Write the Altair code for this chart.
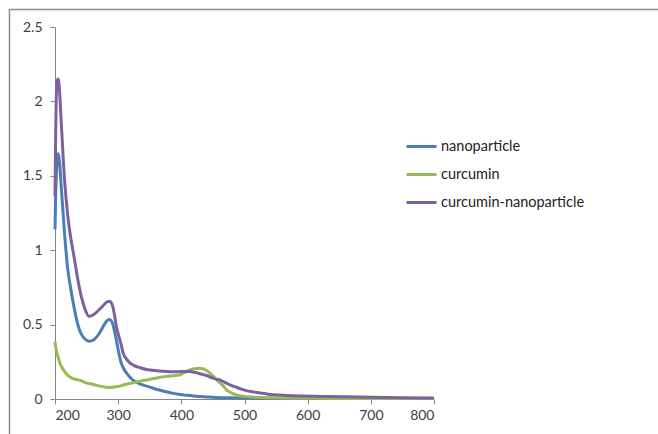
import altair as alt
import pandas as pd

wavelength = [200, 201, 203, 205, 207, 210, 215, 220, 225, 230, 235, 240, 247, 254, 262, 270, 278, 282, 286, 290, 294, 297, 300, 305, 308, 313, 318, 324, 335, 345, 350, 365, 376, 387, 398, 405, 414, 420, 429, 440, 450, 456, 461, 466, 472, 480, 487, 495, 503, 514, 525, 540, 560, 593, 635, 700, 750, 800]

nanoparticle = [1.14, 1.36, 1.58, 1.65, 1.60, 1.42, 1.12, 0.88, 0.74, 0.62, 0.52, 0.45, 0.405, 0.388, 0.40, 0.44, 0.50, 0.525, 0.535, 0.52, 0.46, 0.40, 0.33, 0.24, 0.21, 0.175, 0.15, 0.125, 0.10, 0.087, 0.08, 0.06, 0.049, 0.038, 0.030, 0.026, 0.023, 0.02, 0.017, 0.014, 0.011, 0.01, 0.009, 0.009, 0.008, 0.008, 0.007, 0.007, 0.006, 0.006, 0.005, 0.005, 0.005, 0.004, 0.004, 0.003, 0.003, 0.003]

curcumin = [0.385, 0.35, 0.31, 0.28, 0.25, 0.22, 0.185, 0.16, 0.145, 0.135, 0.13, 0.125, 0.112, 0.104, 0.096, 0.088, 0.081, 0.079, 0.078, 0.079, 0.081, 0.083, 0.085, 0.09, 0.094, 0.099, 0.104, 0.11, 0.12, 0.128, 0.132, 0.145, 0.152, 0.156, 0.162, 0.178, 0.195, 0.203, 0.207, 0.192, 0.155, 0.128, 0.11, 0.09, 0.06, 0.04, 0.027, 0.02, 0.016, 0.012, 0.01, 0.008, 0.006, 0.005, 0.004, 0.003, 0.003, 0.003]

curcumin_nanoparticle = [1.36, 1.75, 2.13, 2.15, 2.08, 1.85, 1.48, 1.24, 1.08, 0.96, 0.83, 0.72, 0.61, 0.555, 0.57, 0.60, 0.635, 0.652, 0.657, 0.64, 0.57, 0.49, 0.44, 0.36, 0.307, 0.27, 0.245, 0.228, 0.21, 0.198, 0.195, 0.188, 0.185, 0.183, 0.184, 0.185, 0.184, 0.18, 0.17, 0.158, 0.14, 0.133, 0.128, 0.118, 0.105, 0.09, 0.079, 0.066, 0.056, 0.048, 0.04, 0.031, 0.026, 0.02, 0.016, 0.012, 0.009, 0.006]

series_names = ["nanoparticle", "curcumin", "curcumin-nanoparticle"]
series_colors = ["#4A7EBB", "#98B954", "#7D60A0"]

rows = []
for name, vals in zip(series_names, [nanoparticle, curcumin, curcumin_nanoparticle]):
    for w, v in zip(wavelength, vals):
        rows.append({"wavelength": w, "absorbance": v, "series": name})
df = pd.DataFrame(rows)

FONT = "Lato"

lines = alt.Chart(df).mark_line(strokeWidth=3, interpolate="monotone").encode(
    x=alt.X("wavelength:Q",
            scale=alt.Scale(domain=[200, 800], nice=False, zero=False),
            axis=alt.Axis(values=[200, 300, 400, 500, 600, 700, 800], title=None,
                          grid=False, tickSize=5, labelPadding=4,
                          domainColor="#868686", tickColor="#868686",
                          labelColor="#404040", labelFontSize=14, labelFont=FONT)),
    y=alt.Y("absorbance:Q",
            scale=alt.Scale(domain=[0, 2.5], nice=False),
            axis=alt.Axis(values=[0, 0.5, 1, 1.5, 2, 2.5], title=None, format="~g",
                          grid=False, tickSize=5, labelPadding=8,
                          domainColor="#868686", tickColor="#868686",
                          labelColor="#404040", labelFontSize=14, labelFont=FONT)),
    color=alt.Color("series:N",
                    scale=alt.Scale(domain=series_names, range=series_colors),
                    legend=alt.Legend(title=None, orient="none", legendX=350, legendY=103,
                                      symbolType="stroke", symbolSize=900, symbolStrokeWidth=3,
                                      labelFontSize=14.5, labelFont=FONT, labelColor="#222222",
                                      labelOffset=3, rowPadding=5, padding=0)),
    order=alt.Order("wavelength:Q"),
)

frame_top = alt.Chart().mark_rule(color="#8c8c8c", strokeWidth=1.5).encode(
    x=alt.value(-46), x2=alt.value(640), y=alt.value(-17.5))
frame_left = alt.Chart().mark_rule(color="#8c8c8c", strokeWidth=1.5).encode(
    x=alt.value(-45.5), y=alt.value(-18), y2=alt.value(420))

chart = alt.layer(frame_top, frame_left, lines).properties(
    width=379, height=372,
    background="white",
    autosize=alt.AutoSizeParams(type="none"),
    padding={"left": 55, "top": 27, "right": 224, "bottom": 35},
).configure_view(strokeWidth=0, stroke="transparent")

chart.save("out.html", embed_options={"renderer": "svg", "actions": False})
